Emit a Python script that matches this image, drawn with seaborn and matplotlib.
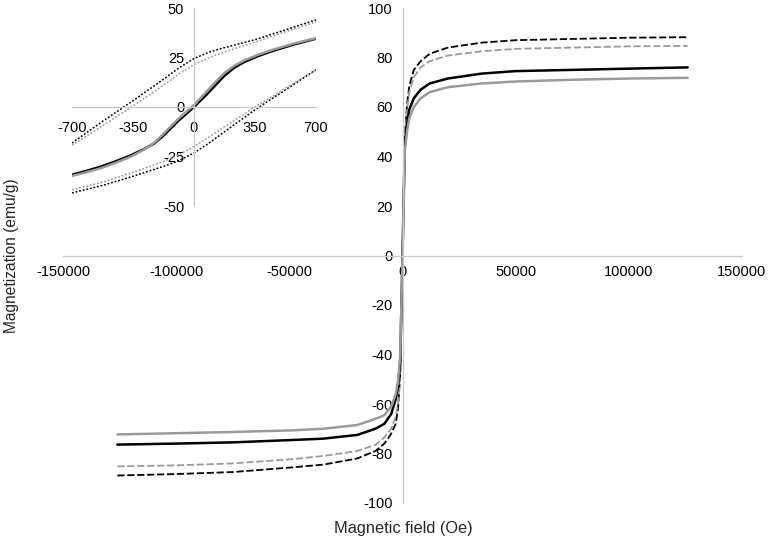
import numpy as np
import pandas as pd
import seaborn as sns
import matplotlib
matplotlib.use("Agg")
import matplotlib.pyplot as plt

sns.set_style("white")
plt.rcParams['font.family'] = ['Liberation Sans', 'DejaVu Sans']
plt.rcParams['axes.unicode_minus'] = False

# sample names (no legend in the original)
samples = ["S1", "S2", "S3", "S4"]

# main plot: field (Oe) and magnetization (emu/g)
field_main = [-126000, -100000, -75000, -50000, -35000, -20000, -12000, -8000,
              -5000, -3000, -2000, -1000, 0, 1000, 2000, 3000, 5000, 8000,
              12000, 20000, 35000, 50000, 75000, 100000, 126000]
m_s1 = [-88.9, -88.3, -87.5, -85.7, -84.5, -82.0, -79.0, -76.0, -72.0, -68.0,
        -62.0, -48.0, 0.0, 47.0, 61.0, 68.5, 75.0, 78.5, 81.5, 84.0, 86.0,
        87.0, 87.5, 88.0, 88.2]
m_s2 = [-85.2, -84.8, -84.0, -82.4, -81.0, -79.0, -76.5, -73.5, -70.0, -65.0,
        -60.0, -47.0, 0.0, 46.0, 59.0, 66.0, 72.0, 76.0, 78.5, 80.8, 82.5,
        83.5, 84.0, 84.5, 84.7]
m_s3 = [-76.4, -76.0, -75.5, -74.6, -74.0, -72.5, -70.0, -68.0, -64.0, -58.0,
        -53.0, -43.0, 0.0, 44.0, 53.0, 59.0, 63.5, 67.0, 69.5, 71.5, 73.5,
        74.5, 75.0, 75.5, 76.0]
m_s4 = [-72.3, -71.8, -71.3, -70.7, -70.0, -68.5, -66.0, -64.5, -61.0, -56.0,
        -51.0, -40.0, 0.0, 42.0, 50.0, 55.5, 60.0, 63.5, 66.0, 68.0, 69.5,
        70.3, 71.0, 71.5, 71.8]

# inset: low field region
field_inset = [-700, -615, -530, -445, -360, -295, -230, -180, -130, -90, -55,
               0, 40, 75, 125, 175, 230, 290, 365, 440, 570, 700]
in_s3 = [-34.2, -32.2, -30.0, -27.3, -24.3, -21.6, -18.5, -14.8, -10.5, -7.0,
         -4.3, 0.0, 3.5, 6.5, 11.2, 15.8, 19.8, 22.8, 25.6, 28.0, 31.5, 34.5]
in_s4 = [-34.8, -32.9, -30.8, -28.0, -25.0, -21.9, -18.2, -14.0, -9.5, -6.0,
         -3.2, 1.0, 4.8, 8.0, 12.8, 17.2, 20.8, 23.6, 26.3, 28.6, 32.0, 34.8]

field_loop = [-700, -525, -350, -175, -90, 0, 90, 175, 350, 525, 700]
in_s1_upper = [-18.2, -7.3, 3.2, 14.0, 19.5, 24.5, 27.8, 30.0, 34.0, 39.0, 44.0]
in_s1_lower = [-43.4, -39.6, -35.0, -30.0, -27.2, -23.2, -18.0, -12.5, -1.4, 8.7, 18.8]
in_s2_upper = [-19.3, -9.5, 0.5, 11.0, 16.5, 21.4, 25.0, 27.8, 32.8, 38.0, 43.0]
in_s2_lower = [-41.8, -38.0, -33.0, -27.5, -24.3, -19.9, -15.0, -10.0, 0.0, 9.5, 18.6]

main_xticks = [-150000, -100000, -50000, 0, 50000, 100000, 150000]
main_yticks = [-100, -80, -60, -40, -20, 0, 20, 40, 60, 80, 100]
inset_xticks = [-700, -350, 0, 350, 700]
inset_yticks = [-50, -25, 0, 25, 50]

pal = {"S1": "#000000", "S2": "#9a9a9a", "S3": "#000000", "S4": "#9a9a9a"}

rows = []
for s, vals in zip(samples, [m_s1, m_s2, m_s3, m_s4]):
    for f, m in zip(field_main, vals):
        rows.append((s, "a", f, m))
df_main = pd.DataFrame(rows, columns=["sample", "branch", "field", "M"])

rows = []
for s, vals in [("S3", in_s3), ("S4", in_s4)]:
    for f, m in zip(field_inset, vals):
        rows.append((s, "a", f, m))
for s, up, lo in [("S1", in_s1_upper, in_s1_lower), ("S2", in_s2_upper, in_s2_lower)]:
    for f, m in zip(field_loop, up):
        rows.append((s, "up", f, m))
    for f, m in zip(field_loop, lo):
        rows.append((s, "down", f, m))
df_inset = pd.DataFrame(rows, columns=["sample", "branch", "field", "M"])


def excel_axes(ax, xticks, yticks):
    for s in ["top", "right"]:
        ax.spines[s].set_visible(False)
    for s in ["left", "bottom"]:
        ax.spines[s].set_position(("data", 0))
        ax.spines[s].set_color("#c8c8c8")
        ax.spines[s].set_linewidth(0.9)
    ax.set_xlim(xticks[0], xticks[-1])
    ax.set_ylim(yticks[0], yticks[-1])
    ax.set_xticks(xticks)
    ax.set_xticklabels([str(t) for t in xticks])
    ax.set_yticks(yticks)
    ax.set_yticklabels([str(t) for t in yticks])
    ax.tick_params(direction="out", length=4, width=0.9, color="#c8c8c8",
                   labelsize=10.5, labelcolor="black", pad=3)
    ax.set_xlabel("")
    ax.set_ylabel("")
    ax.set_facecolor("none")


fig = plt.figure(figsize=(7.7, 5.47), dpi=100)
ax = fig.add_axes([63 / 770, 1 - 503 / 547, (742 - 63) / 770, (503 - 8) / 547])
sns.lineplot(data=df_main, x="field", y="M", hue="sample", style="sample",
             size="sample", units="branch", estimator=None, sort=False,
             palette=pal,
             dashes={"S1": (4, 1.5), "S2": (4, 1.5), "S3": "", "S4": ""},
             sizes={"S1": 1.3, "S2": 1.3, "S3": 1.8, "S4": 1.8},
             legend=False, ax=ax)
excel_axes(ax, main_xticks, main_yticks)

axi = fig.add_axes([72 / 770, 1 - 206 / 547, (316 - 72) / 770, (206 - 8) / 547])
sns.lineplot(data=df_inset, x="field", y="M", hue="sample", style="sample",
             size="sample", units="branch", estimator=None, sort=False,
             palette=pal,
             dashes={"S1": (1.2, 1.2), "S2": (1.2, 1.2), "S3": "", "S4": ""},
             sizes={"S1": 1.1, "S2": 1.1, "S3": 1.8, "S4": 1.8},
             legend=False, ax=axi)
excel_axes(axi, inset_xticks, inset_yticks)
axi.tick_params(axis="x", pad=6)

fig.text(12 / 770, 1 - 256 / 547, "Magnetization (emu/g)", rotation=90,
         ha="center", va="center", fontsize=11.2)
fig.text(403 / 770, 1 - 528 / 547, "Magnetic field (Oe)",
         ha="center", va="center", fontsize=11.8)

fig.savefig("out.png", dpi=100)
